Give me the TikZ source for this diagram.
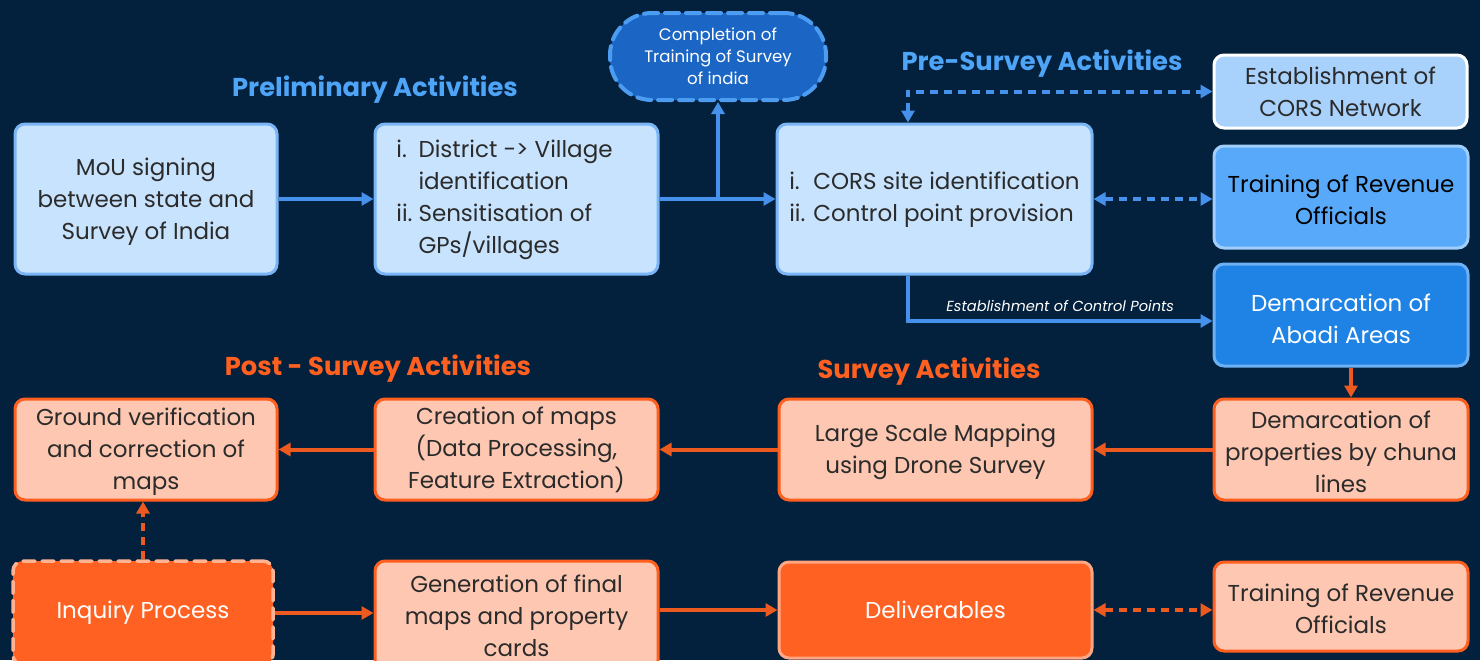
\documentclass[tikz,border=0pt]{standalone}
\usepackage{fontspec}
\setmainfont{Poppins}
\usepackage{xcolor}
\usetikzlibrary{arrows.meta}
\definecolor{bgnavy}{HTML}{03203C}
\definecolor{darktext}{HTML}{2B2B2B}
\definecolor{lightfill}{HTML}{C8E3FD}
\definecolor{lightline}{HTML}{7AB6F6}
\definecolor{netfill}{HTML}{A8D2FC}
\definecolor{trainfill}{HTML}{58A9F9}
\definecolor{trainline}{HTML}{A0CDFA}
\definecolor{abadifill}{HTML}{1F83E5}
\definecolor{abadiline}{HTML}{6DB0F4}
\definecolor{ovalfill}{HTML}{1B66C4}
\definecolor{ovalline}{HTML}{4C9DF2}
\definecolor{arrowblue}{HTML}{4691EB}
\definecolor{headblue}{HTML}{4EA4F6}
\definecolor{peachfill}{HTML}{FDC7B1}
\definecolor{orangeline}{HTML}{FF5F1F}
\definecolor{orangefill}{HTML}{FF6122}
\definecolor{delivline}{HTML}{FFA784}
\definecolor{inqline}{HTML}{FFB392}
\definecolor{arroworange}{HTML}{EC5A20}
% raises the first line so the text sits a little lower in its box
\newcommand{\toprule}[1]{\rule{0pt}{#1}}

\begin{document}
\begin{tikzpicture}[x=0.5pt, y=-0.5pt,
		box/.style={draw, line width=1.5pt, rounded corners=5pt, align=center, inner sep=0pt,
			font=\fontsize{11.5}{16}\selectfont},
		lightbox/.style={box, fill=lightfill, draw=lightline, text=darktext},
		peachbox/.style={box, fill=peachfill, draw=orangeline, text=darktext},
		orangebox/.style={box, fill=orangefill, text=white},
		heading/.style={font=\fontsize{12.9}{15}\selectfont\bfseries},
		flow/.style={line width=2pt, -{Triangle[length=6pt,width=6.5pt]}},
		twoway/.style={line width=2pt, dash pattern=on 4pt off 3pt,
			{Triangle[length=6pt,width=6.5pt]}-{Triangle[length=6pt,width=6.5pt]}},
		blueflow/.style={flow, draw=arrowblue},
		orangeflow/.style={flow, draw=arroworange}]
		\useasboundingbox (0,0) rectangle (1480,660);
		\fill[bgnavy] (0,0) rectangle (1480,660);
		\clip (0,0) rectangle (1480,660);

		% headings
		\node[heading, text=headblue] (prelim) at (375,90) {Preliminary Activities};
		\node[heading, text=headblue] (presurvey) at (1042,64) {Pre-Survey Activities};
		\node[heading, text=orangeline] (postsurvey) at (378,369) {Post - Survey Activities};
		\node[heading, text=orangeline] (survey) at (929,372) {Survey Activities};

		% preliminary and pre-survey
		\node[lightbox, minimum width=131pt, minimum height=75pt] (mou) at (146,199)
			{\toprule{11pt}MoU signing\\between state and\\Survey of India};
		\node[lightbox, minimum width=141.5pt, minimum height=75pt, align=left] (dist) at (516.5,199)
			{\begin{tabular}{@{}l@{\hspace{3pt}}l@{}}i. & District -{}> Village\\ & identification\\ ii. & Sensitisation of\\ & GPs/villages\end{tabular}\hspace*{12pt}};
		\node[lightbox, minimum width=157.5pt, minimum height=75pt, align=left] (cors) at (934.5,199)
			{\begin{tabular}{@{}l@{\hspace{4pt}}l@{}}i. & CORS site identification\\ ii. & Control point provision\end{tabular}};
		\node[box, fill=ovalfill, draw=ovalline, line width=2pt, dash pattern=on 7pt off 3.5pt, line cap=round,
			text=white, rounded corners=21pt, minimum width=108pt, minimum height=43.5pt,
			font=\fontsize{8.3}{11}\selectfont] (oval) at (718,56.5)
			{Completion of\\Training of Survey\\of india};
		\node[box, fill=netfill, draw=white, text=darktext, minimum width=126.5pt, minimum height=36.5pt] (corsnet) at (1340.5,91.5)
			{Establishment of\\CORS Network};
		\node[box, fill=trainfill, draw=trainline, text=black, minimum width=127pt, minimum height=51pt] (trainb) at (1341,197)
			{\toprule{12pt}Training of Revenue\\Officials};
		\node[box, fill=abadifill, draw=abadiline, text=white, minimum width=127pt, minimum height=51pt] (abadi) at (1341,315)
			{\toprule{13pt}Demarcation of\\Abadi Areas};

		% survey and post-survey
		\node[peachbox, minimum width=127pt, minimum height=50.5pt] (props) at (1341,449.5)
			{\toprule{11pt}Demarcation of\\properties by chuna\\lines};
		\node[peachbox, minimum width=156.5pt, minimum height=50.5pt] (large) at (935.5,449.5)
			{\toprule{11pt}Large Scale Mapping\\using Drone Survey};
		\node[peachbox, minimum width=141.5pt, minimum height=50.5pt] (create) at (516.5,449.5)
			{Creation of maps\\(Data Processing,\\Feature Extraction)};
		\node[peachbox, minimum width=131pt, minimum height=50.5pt] (ground) at (146,449.5)
			{\toprule{11pt}Ground verification\\and correction of\\maps};
		\node[orangebox, draw=inqline, line width=1.75pt, dash pattern=on 6pt off 3.5pt, line cap=round,
			minimum width=130pt, minimum height=52pt] (inq) at (143,613)
			{Inquiry Process};
		\node[peachbox, minimum width=141.5pt, minimum height=54.5pt] (gen) at (516.5,615.5)
			{Generation of final\\maps and property\\cards};
		\node[orangebox, draw=delivline, minimum width=156.5pt, minimum height=48pt] (deliv) at (935.5,610)
			{Deliverables};
		\node[peachbox, minimum width=127pt, minimum height=44.5pt] (trainp) at (1341,606.5)
			{\toprule{11pt}Training of Revenue\\Officials};

		% blue connectors
		\draw[blueflow] (mou) -- (dist);
		\draw[blueflow] (dist) -- (cors);
		\draw[blueflow] (dist.east -| oval.south) -- (oval.south);
		\draw[twoway, draw=arrowblue] ([xshift=-13.25pt]cors.north) |- (corsnet.west);
		\draw[twoway, draw=arrowblue] (cors.east) -- (cors.east -| trainb.west);
		\draw[blueflow] ([xshift=-13.25pt]cors.south) |- ([yshift=-3pt]abadi.west)
			node[pos=0.75, above=0.5pt, text=white, font=\fontsize{7.3}{9}\selectfont\itshape] {Establishment of Control Points};

		% orange connectors
		\draw[orangeflow] ([xshift=5pt]abadi.south) -- ([xshift=5pt]props.north);
		\draw[orangeflow] (props) -- (large);
		\draw[orangeflow] (large) -- (create);
		\draw[orangeflow] (create) -- (ground);
		\draw[orangeflow, dash pattern=on 4pt off 3pt] (inq.north) -- (inq.north |- ground.south);
		\draw[orangeflow] (inq.east) -- (inq.east -| gen.west);
		\draw[orangeflow] (deliv.west -| gen.east) -- (deliv.west);
		\draw[twoway, draw=arroworange] (deliv.east) -- (deliv.east -| trainp.west);
	\end{tikzpicture}
\end{document}
